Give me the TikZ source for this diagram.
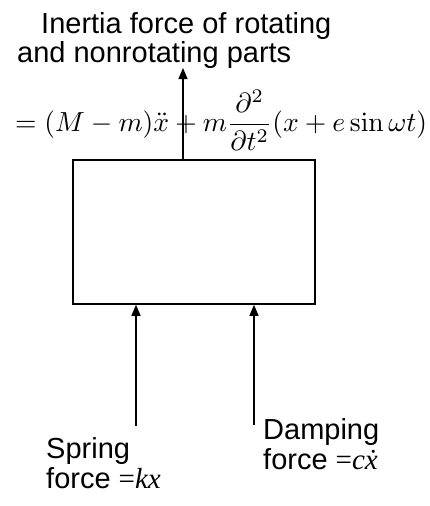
\documentclass[tikz,border=0pt]{standalone}
\usepackage{amsmath}
\usepackage[no-math]{fontspec}
\setmainfont{Liberation Sans}
\newfontfamily\serifmath{Liberation Serif}
\usetikzlibrary{arrows.meta}
\tikzset{
  arr/.style={line width=1.2pt, -{Triangle[width=9pt,length=11pt]}},
  block/.style={draw, line width=1.6pt, inner sep=0pt, minimum width=242pt, minimum height=144pt},
  lbl/.style={inner sep=0pt, align=left, font=\fontsize{29}{30}\selectfont}
}
\begin{document}
\begin{tikzpicture}[x=1pt,y=-1pt]
\useasboundingbox (0,0) rectangle (429,506);
\node[block] (box) at (194,232) {};
\coordinate (top) at (183,68);
\coordinate (sp) at (136,426);
\coordinate (dp) at (254,425);
\draw[arr] (box.north -| top) -- (top);
\draw[arr] (sp) -- (sp |- box.south);
\draw[arr] (dp) -- (dp |- box.south);
\node[lbl, anchor=base west] (t1) at (41,33) {Inertia force of rotating};
\node[lbl, anchor=base west] (t2) at (17,62) {and nonrotating parts};
\node[inner sep=0pt, anchor=west] (eq) at (15,120) {\resizebox{412pt}{!}{$=(M-m)\ddot{x}+m\dfrac{\partial^2}{\partial t^2}(x+e\sin\omega t)$}};
\node[lbl, anchor=base west] (spring) at (46,488) {Spring\\force {\serifmath=\itshape kx}};
\node[lbl, anchor=base west] (damp) at (263,469) {Damping\\force {\serifmath=\itshape c\.x}};
\end{tikzpicture}
\end{document}
